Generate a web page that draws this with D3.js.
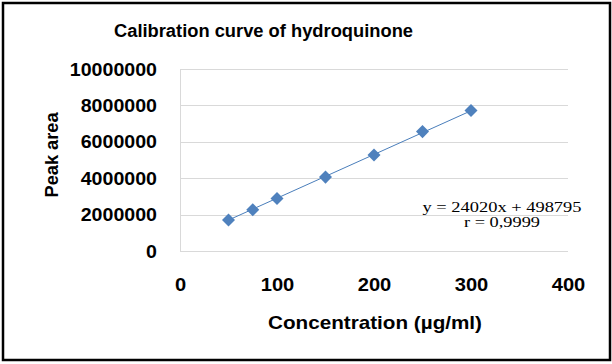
<!doctype html>
<html>
<head>
<meta charset="utf-8">
<script src="https://d3js.org/d3.v7.min.js"></script>
<style>
  body { margin: 0; background: #fff; }
  text { font-family: "Liberation Sans", Arial, sans-serif; font-weight: bold; fill: #000; }
</style>
</head>
<body>
<div id="chart"></div>
<script>
// data
var conc = [50, 75, 100, 150, 200, 250, 300];
var area = [1700000, 2270000, 2880000, 4060000, 5280000, 6560000, 7720000];
var xTicks = [0, 100, 200, 300, 400];
var yTicks = [0, 2000000, 4000000, 6000000, 8000000, 10000000];
var slope = 24020, intercept = 498795;
var eqLines = ["y = 24020x  + 498795", "r = 0,9999"];

var W = 612, H = 364;
var svg = d3.select("#chart").append("svg")
    .attr("width", W).attr("height", H);

svg.append("rect").attr("x", 0).attr("y", 0).attr("width", W).attr("height", H).attr("fill", "#fff");
svg.append("rect")
    .attr("x", 3).attr("y", 3).attr("width", 607).attr("height", 357)
    .attr("fill", "none").attr("stroke", "#000").attr("stroke-width", 2.5);

var x = d3.scaleLinear().domain([0, 400]).range([180, 568]);
var y = d3.scaleLinear().domain([0, 10000000]).range([251, 69]);

// gridlines
svg.append("g").selectAll("line").data(yTicks).enter().append("line")
    .attr("x1", x(0)).attr("x2", x(400))
    .attr("y1", function (d) { return Math.round(y(d)) + 0.5; })
    .attr("y2", function (d) { return Math.round(y(d)) + 0.5; })
    .attr("stroke", "#d9d9d9").attr("stroke-width", 1);
svg.append("line")
    .attr("x1", x(0) + 0.5).attr("x2", x(0) + 0.5)
    .attr("y1", y(10000000)).attr("y2", y(0))
    .attr("stroke", "#d9d9d9");

// tick labels, widths pinned to the picture
svg.append("g").selectAll("text").data(yTicks).enter().append("text")
    .attr("x", 157).attr("y", function (d) { return y(d) + 6.5; })
    .attr("text-anchor", "end").style("font-size", "19px")
    .attr("textLength", function (d) { return String(d).length * 10.9; })
    .attr("lengthAdjust", "spacingAndGlyphs")
    .text(function (d) { return d; });

svg.append("g").selectAll("text").data(xTicks).enter().append("text")
    .attr("x", function (d) { return x(d) + 0.5; }).attr("y", 290.5)
    .attr("text-anchor", "middle").style("font-size", "19px")
    .attr("textLength", function (d) { return String(d).length * 11.2; })
    .attr("lengthAdjust", "spacingAndGlyphs")
    .text(function (d) { return d; });

// titles
svg.append("text").attr("x", 263.5).attr("y", 37)
    .attr("text-anchor", "middle").style("font-size", "18px")
    .attr("textLength", 299).attr("lengthAdjust", "spacingAndGlyphs")
    .text("Calibration curve of hydroquinone");

svg.append("text").attr("x", 375).attr("y", 329)
    .attr("text-anchor", "middle").style("font-size", "19px")
    .attr("textLength", 214).attr("lengthAdjust", "spacingAndGlyphs")
    .text("Concentration (µg/ml)");

svg.append("text")
    .attr("transform", "translate(57.5,155) rotate(-90)")
    .attr("text-anchor", "middle").style("font-size", "19px")
    .attr("textLength", 85).attr("lengthAdjust", "spacingAndGlyphs")
    .text("Peak area");

// trend line
var xs = d3.extent(conc);
svg.append("line")
    .attr("x1", x(xs[0])).attr("y1", y(slope * xs[0] + intercept))
    .attr("x2", x(xs[1])).attr("y2", y(slope * xs[1] + intercept))
    .attr("stroke", "#4a7ebb").attr("stroke-width", 1);

// markers
var diamond = d3.symbol().type(d3.symbolSquare).size(85);
svg.append("g").selectAll("path").data(conc).enter().append("path")
    .attr("d", diamond)
    .attr("transform", function (d, i) {
        return "translate(" + x(d) + "," + y(area[i]) + ") rotate(45)";
    })
    .attr("fill", "#4f81bd");

// equation
svg.append("g").selectAll("text").data(eqLines).enter().append("text")
    .attr("x", 502).attr("y", function (d, i) { return 211.5 + i * 15.5; })
    .attr("text-anchor", "middle")
    .style("font-family", "'Liberation Serif', 'Times New Roman', serif")
    .style("font-weight", "normal").style("font-size", "15px")
    .attr("textLength", function (d, i) { return i == 0 ? 159 : 76; })
    .attr("lengthAdjust", "spacingAndGlyphs")
    .text(function (d) { return d; });
</script>
</body>
</html>
